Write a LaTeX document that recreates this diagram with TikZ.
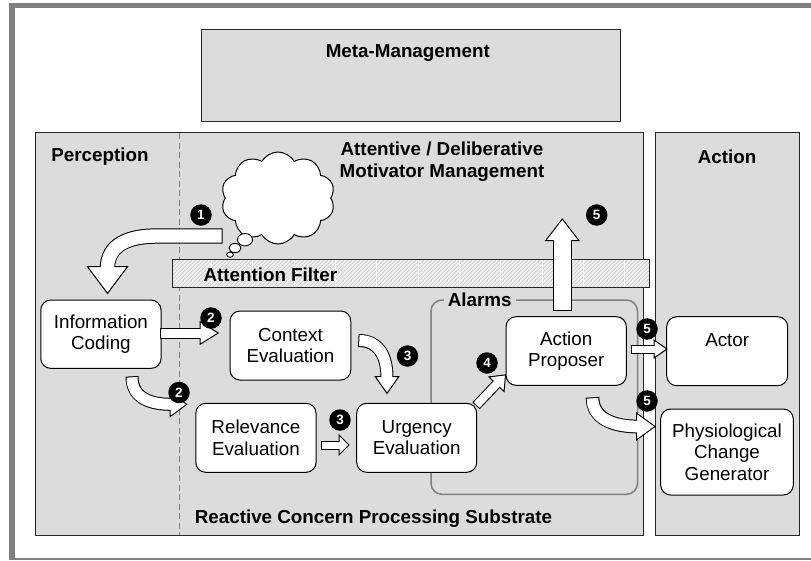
\documentclass[tikz,border=0pt]{standalone}
\usepackage{fontspec}
\setmainfont{Liberation Sans}
\usetikzlibrary{calc,shapes.symbols}

\definecolor{panel}{HTML}{DCDCDC}
\definecolor{framegray}{HTML}{808080}
\definecolor{hatchgray}{HTML}{CACACA}
\definecolor{filterbg}{HTML}{EFEFEF}

% Block arrow: #1 shaft path, #2 shaft width, #3 head base point,
% #4 head direction (degrees), #5 head length, #6 head half width
\newcommand\blockarrow[6]{%
  \draw[line width={#2+2}, black, shorten <=-1pt, shorten >=-1pt] #1;
  \filldraw[fill=white, draw=black, line width=1pt, line join=miter,
            shift={#3}, rotate=#4] (0,#6) -- (#5,0) -- (0,-#6) -- cycle;
  \draw[line width={#2}, white, shorten >=-1.6pt] #1;
}

\begin{document}
\begin{tikzpicture}[x=1pt,y=-1pt,
  panelbox/.style={draw=black!85, line width=1pt, fill=panel},
  unit/.style={draw=black, line width=1pt, fill=white, rounded corners=10pt,
    align=center, inner sep=0pt, font=\fontsize{18.8}{21.5}\selectfont},
  heading/.style={font=\fontsize{18.8}{22}\selectfont\bfseries, align=center, inner sep=0pt},
  badge/.style={circle, fill=black, text=white, inner sep=0pt, minimum size=21.5pt,
    font=\fontsize{13.5}{13.5}\selectfont\bfseries},
  bubble/.style={draw=black, line width=0.9pt, fill=white},
]
\useasboundingbox (0,0) rectangle (811,560);
\fill[white] (0,0) rectangle (811,560);

% outer frame
\fill[framegray] (9,3.3) rectangle (811,8.3);
\fill[framegray] (9,3.3) rectangle (14.5,560);
\fill[framegray] (9,557.7) rectangle (811,560);

% layers
\draw[panelbox] (201.7,29) rectangle (620.7,121);
\draw[panelbox] (35,132.3) rectangle (643.3,535.7);
\draw[panelbox] (655,132.3) rectangle (799,535.7);
\draw[framegray, line width=1pt, dash pattern=on 6pt off 3.5pt] (179,133) -- (179,535);

% alarm system
\draw[framegray, line width=1.5pt, rounded corners=11pt] (431,300) rectangle (637.5,494.3);
\node[heading, fill=panel, inner xsep=4pt, inner ysep=1pt] (alarms) at (479.7,300) {Alarms};

% attention filter band
\fill[filterbg] (172.3,259.3) rectangle (649.3,287.7);
\begin{scope}
  \clip (172.3,259.3) rectangle (649.3,287.7);
  \foreach \x in {140,144,...,652}
    \draw[hatchgray, line width=0.5pt] (\x,287.7) -- (\x+28.4,259.3);
  \foreach \x in {211.5,252.8,...,649}
    \draw[white, line width=0.7pt] (\x,259.3) -- (\x,287.7);
\end{scope}
\draw[black!85, line width=1pt] (172.3,259.3) rectangle (649.3,287.7);
\node[heading, anchor=west] (filter) at (203.3,275) {Attention Filter};

% thought cloud
\node[cloud, draw=black, line width=1pt, fill=white, cloud puffs=10, cloud puff arc=120,
      minimum width=114pt, minimum height=92pt, inner sep=0pt] (thought) at (278,198) {};
\draw[bubble] (245,239.7) ellipse [x radius=7.5, y radius=6.2];
\draw[bubble] (235,248) ellipse [x radius=6, y radius=4.6];
\draw[bubble] (230,254.7) ellipse [x radius=3.4, y radius=2.6];

% processing units
\node[unit, minimum width=120.3pt, minimum height=68.3pt] (info) at (100.9,334.2) {Information\\Coding};
\node[unit, minimum width=120.7pt, minimum height=69pt] (ctx) at (290.4,345.5) {Context\\Evaluation};
\node[unit, minimum width=120.3pt, minimum height=69pt] (rel) at (255.9,437.8) {Relevance\\Evaluation};
\node[unit, minimum width=120pt, minimum height=69pt] (urg) at (416.7,437.8) {Urgency\\Evaluation};
\node[unit, minimum width=120.3pt, minimum height=68.6pt] (prop) at (566.2,351) {Action\\Proposer};
\node[unit, minimum width=121pt, minimum height=69pt] (actor) at (727.2,351.2) {Actor\\\phantom{Actor}};
\node[unit, minimum width=132.6pt, minimum height=86pt] (phys) at (727,452) {Physiological\\Change\\Generator};

% arrow end points
\coordinate (a1s) at (221.7,236);
\coordinate (a1e) at (107.5,266.7);
\coordinate (a2s) at (161,333);
\coordinate (a2e) at (200,333);
\coordinate (b2s) at (132,377.3);
\coordinate (b2e) at (170,404.3);
\coordinate (a3s) at (321.7,445);
\coordinate (a3e) at (339,445);
\coordinate (b3s) at (359.3,340.5);
\coordinate (b3e) at (387,376.7);
\coordinate (a4s) at (476.7,405);
\coordinate (a4e) at (496.5,384.2);
\coordinate (a5s) at (562.3,310);
\coordinate (a5e) at (562.3,240.7);
\coordinate (b5s) at (631.7,349);
\coordinate (b5e) at (654,349);
\coordinate (c5s) at (592.5,398.3);
\coordinate (c5e) at (636.7,426.5);

% flows
\blockarrow{(a1s) -- (157,236) .. controls (128,236) and (107.5,245) .. (a1e)}{13.4}{(a1e)}{-90}{26.7}{20}
\blockarrow{(a2s) -- (a2e)}{9}{(a2e)}{0}{18.3}{11.3}
\blockarrow{(b2s) .. controls (132,398) and (150,404.3) .. (b2e)}{11}{(b2e)}{0}{16.7}{12.5}
\blockarrow{(a3s) -- (a3e)}{7}{(a3e)}{0}{10}{10}
\blockarrow{(b3s) .. controls (378,340.5) and (387,355) .. (b3e)}{11}{(b3e)}{-90}{16.7}{11.7}
\blockarrow{(a4s) -- (a4e)}{8}{(a4e)}{46}{13}{10.5}
\blockarrow{(a5s) -- (a5e)}{16.7}{(a5e)}{90}{21.7}{16.7}
\blockarrow{(b5s) -- (b5e)}{7}{(b5e)}{0}{13}{9}
\blockarrow{(c5s) .. controls (592.5,418) and (612,426.5) .. (c5e)}{11.7}{(c5e)}{0}{18.3}{13.3}

% step markers
\node[badge] (n1) at (201,215) {1};
\node[badge] (n2a) at (211,318) {2};
\node[badge] (n2b) at (179,392.5) {2};
\node[badge] (n3a) at (407.5,356) {3};
\node[badge] (n3b) at (340,420) {3};
\node[badge] (n4) at (487,363) {4};
\node[badge] (n5a) at (596.7,215) {5};
\node[badge] (n5b) at (647,329) {5};
\node[badge] (n5c) at (647,401) {5};

% layer titles
\node[heading] (meta) at (407.8,53) {Meta-Management};
\node[heading] (perc) at (100,157) {Perception};
\node[heading] (delib) at (442,161.5) {Attentive / Deliberative\\Motivator Management};
\node[heading] (act) at (727,156.7) {Action};
\node[heading] (react) at (373.5,518.3) {Reactive Concern Processing Substrate};
\end{tikzpicture}
\end{document}
